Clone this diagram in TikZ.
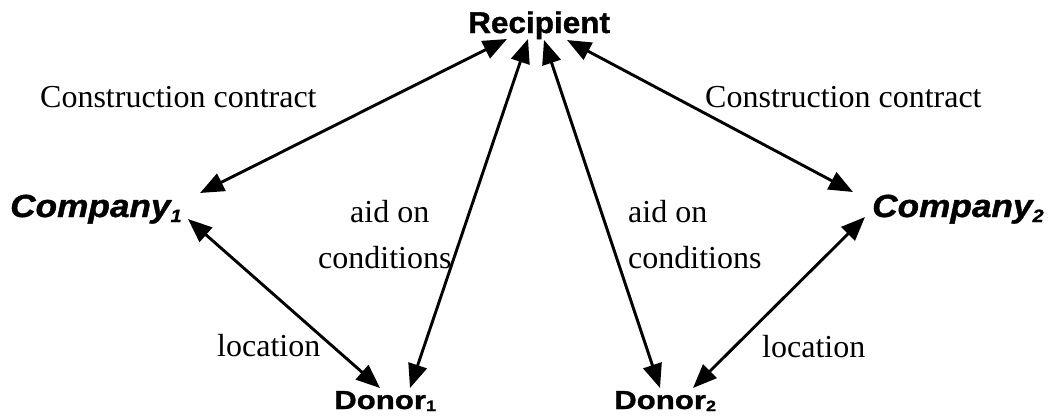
\documentclass[tikz,border=0pt]{standalone}
\usepackage{fontspec}
\setmainfont{Liberation Serif}
\newfontfamily\recfont[FakeStretch=1.05,FakeBold=1.2]{Liberation Sans}
\newfontfamily\compfont[FakeStretch=1.1,FakeBold=1.2]{Liberation Sans}
\newfontfamily\donfont[FakeStretch=1.2,FakeBold=1.2]{Liberation Sans}
\usetikzlibrary{arrows.meta}
\tikzset{
  actor/.style={inner sep=0pt, anchor=base west},
  lbl/.style={inner sep=0pt, anchor=base west, font=\fontsize{32}{38}\selectfont},
  link/.style={line width=2.9pt, {Triangle[length=24pt,width=19pt]}-{Triangle[length=24pt,width=19pt]}}
}
\begin{document}
\begin{tikzpicture}[x=1pt,y=-1pt]
\useasboundingbox (0,0) rectangle (1059,418);

% parties
\node[actor, font=\recfont\bfseries\fontsize{30}{34}\selectfont] (rec) at (468,33) {Recipient};
\node[actor, font=\compfont\bfseries\itshape\fontsize{32}{36}\selectfont] (comp1) at (10,217)
  {Company\raisebox{-5pt}{\fontsize{18}{18}\selectfont 1}};
\node[actor, font=\compfont\bfseries\itshape\fontsize{32}{36}\selectfont] (comp2) at (872,217)
  {Company\raisebox{-5pt}{\fontsize{18}{18}\selectfont 2}};
\node[actor, font=\donfont\bfseries\fontsize{26}{30}\selectfont] (don1) at (334,409)
  {Donor\raisebox{-2pt}{\fontsize{15}{15}\selectfont 1}};
\node[actor, font=\donfont\bfseries\fontsize{26}{30}\selectfont] (don2) at (614,409)
  {Donor\raisebox{-2pt}{\fontsize{15}{15}\selectfont 2}};

% relation labels
\node[lbl] (cc1) at (40,107) {Construction contract};
\node[lbl] (cc2) at (705,107) {Construction contract};
\node[lbl] (aid1) at (350,222) {aid on};
\node[lbl] (cond1) at (318,268) {conditions};
\node[lbl] (aid2) at (628,222) {aid on};
\node[lbl] (cond2) at (628,268) {conditions};
\node[lbl] (loc1) at (217,356) {location};
\node[lbl] (loc2) at (762,357) {location};

% arrow tips at each party
\coordinate (recA) at (507,39);
\coordinate (recB) at (528,39);
\coordinate (recC) at (544,40);
\coordinate (recD) at (567,40);
\coordinate (comp1R) at (200,193);
\coordinate (comp1D) at (188,219);
\coordinate (comp2L) at (853,192);
\coordinate (comp2D) at (865,217);
\coordinate (don1L) at (380,388);
\coordinate (don1R) at (410,388);
\coordinate (don2L) at (660,388);
\coordinate (don2R) at (693,388);

% relations
\draw[link] (recA) -- (comp1R);
\draw[link] (recB) -- (don1R);
\draw[link] (recC) -- (don2L);
\draw[link] (recD) -- (comp2L);
\draw[link] (comp1D) -- (don1L);
\draw[link] (comp2D) -- (don2R);
\end{tikzpicture}
\end{document}
